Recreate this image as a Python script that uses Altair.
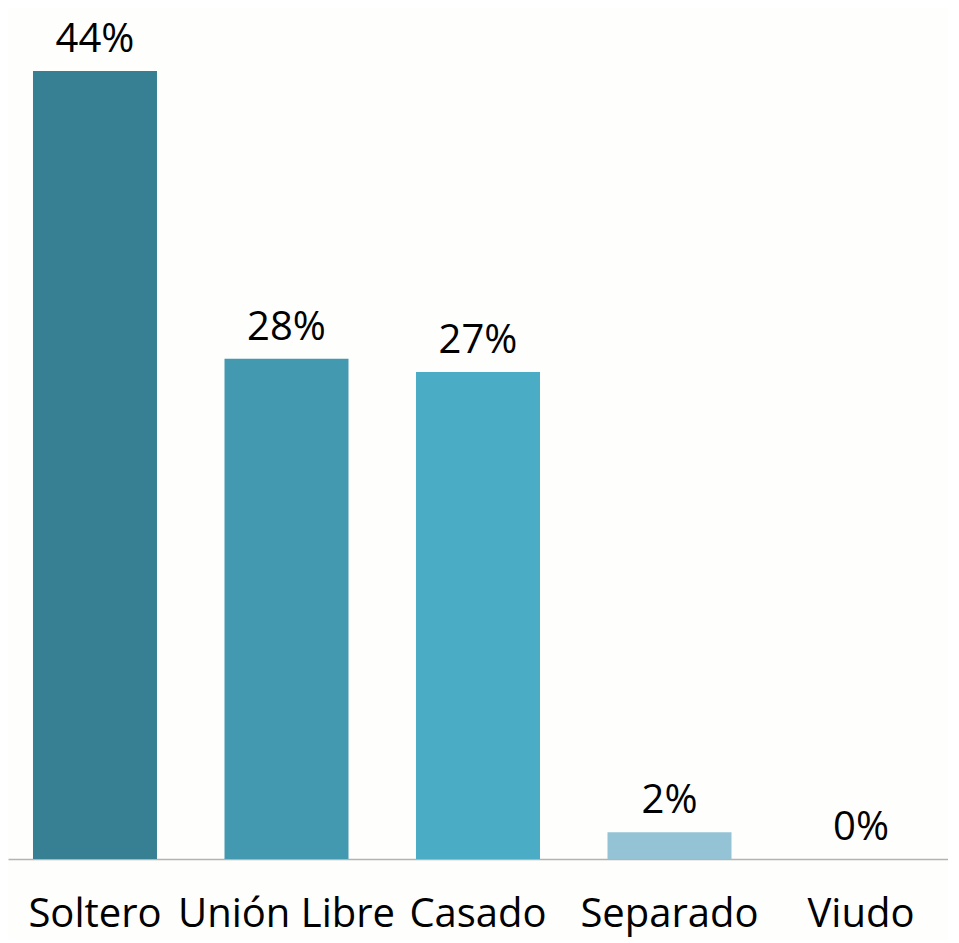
import altair as alt
import pandas as pd

categories = ["Soltero", "Unión Libre", "Casado", "Separado", "Viudo"]
values = [44.1, 28.0, 27.25, 1.5, 0.0]
labels = ["44%", "28%", "27%", "2%", "0%"]
colors = ["#378094", "#4399B0", "#4AACC5", "#93C3D5", "#B9DCE8"]

df = pd.DataFrame({"cat": categories, "val": values, "lab": labels})

x = alt.X(
    "cat:N",
    sort=categories,
    scale=alt.Scale(paddingInner=0.3525, paddingOuter=0.1305),
    axis=alt.Axis(
        title=None,
        ticks=False,
        tickSize=0,
        labelAngle=0,
        labelFont="Open Sans",
        labelFontSize=40,
        labelColor="#000000",
        labelPadding=67,
        labelBaseline="alphabetic",
        labelOverlap=False,
        labelBound=False,
        labelFlush=False,
        labelLimit=0,
        domainColor="#B3B3B3",
        domainWidth=1.5,
        grid=False,
    ),
)
y = alt.Y("val:Q", scale=alt.Scale(domain=[0, 46.73], nice=False), axis=None)

base = alt.Chart(df)
bars = base.mark_bar().encode(
    x=x,
    y=y,
    color=alt.Color("cat:N", sort=categories, scale=alt.Scale(domain=categories, range=colors), legend=None),
)
text = base.mark_text(
    font="Open Sans", fontSize=40, color="#000000", baseline="alphabetic", dy=-19
).encode(x=x, y=y, text="lab:N")

chart = (
    alt.layer(bars, text)
    .properties(
        width=940,
        height=835,
        background="#FEFEFD",
        padding={"top": 11, "left": 0, "right": 0, "bottom": 6},
    )
    .configure_view(stroke=None)
)
chart.save("out.html", embed_options={"renderer": "svg", "actions": False})
